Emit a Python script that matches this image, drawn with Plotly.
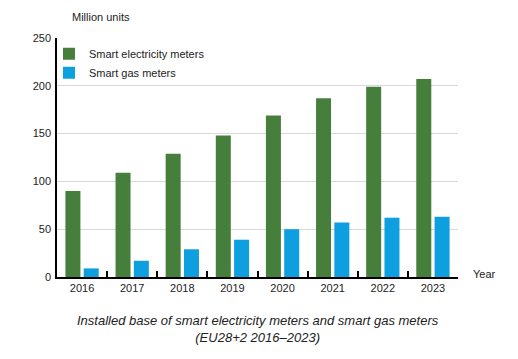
import plotly.graph_objects as go

years = ["2016", "2017", "2018", "2019", "2020", "2021", "2022", "2023"]
electricity = [90, 109, 129, 148, 169, 187, 199, 207]
gas = [9, 17, 29, 39, 50, 57, 62, 63]
y_ticks = [0, 50, 100, 150, 200, 250]

FONT = "Liberation Sans, Arial, sans-serif"

fig = go.Figure()
fig.add_trace(go.Bar(x=years, y=electricity, name="Smart electricity meters",
                     marker=dict(color="#467f3b", line=dict(width=0))))
fig.add_trace(go.Bar(x=years, y=gas, name="Smart gas meters",
                     marker=dict(color="#0d9fdf", line=dict(width=0))))

fig.update_layout(
    width=510, height=351,
    margin=dict(l=49, r=60, t=30, b=82),
    paper_bgcolor="white", plot_bgcolor="white",
    barmode="group", bargap=0.27, bargroupgap=0.18,
    font=dict(family=FONT, size=11, color="#222"),
    showlegend=True,
    legend=dict(x=-0.02, y=0.995, xanchor="left", yanchor="top",
                bgcolor="rgba(0,0,0,0)", font=dict(size=11, color="#222"),
                itemwidth=30, itemsizing="constant", tracegroupgap=4),
    xaxis=dict(showline=True, linecolor="black", linewidth=1.5,
               ticks="inside", tickson="boundaries", ticklen=6,
               tickcolor="black", tickwidth=1.5, showgrid=False,
               tickfont=dict(size=11, color="#222")),
    yaxis=dict(range=[0, 250], tickvals=y_ticks, showline=True,
               linecolor="black", linewidth=1.5, ticks="",
               ticklabelstandoff=2,
               showgrid=True, gridcolor="#d9d9d9", gridwidth=1,
               zeroline=False, tickfont=dict(size=11, color="#222")),
    annotations=[
        dict(text="Million units", xref="paper", yref="paper", x=0.032, y=1.0,
             yshift=13, xanchor="left", yanchor="bottom", showarrow=False,
             font=dict(size=11, color="#222")),
        dict(text="Year", xref="paper", yref="paper", x=1.0, y=0.0,
             xshift=13, yshift=-5, xanchor="left", yanchor="bottom", showarrow=False,
             font=dict(size=11, color="#222")),
        dict(text="<i>Installed base of smart electricity meters and smart gas meters</i><br><i>(EU28+2 2016–2023)</i>",
             xref="paper", yref="paper", x=0.5, y=0.0, yshift=-34,
             xanchor="center", yanchor="top", showarrow=False,
             font=dict(size=13, color="#222", family=FONT), align="center"),
    ],
)

fig.write_html("out.html")
